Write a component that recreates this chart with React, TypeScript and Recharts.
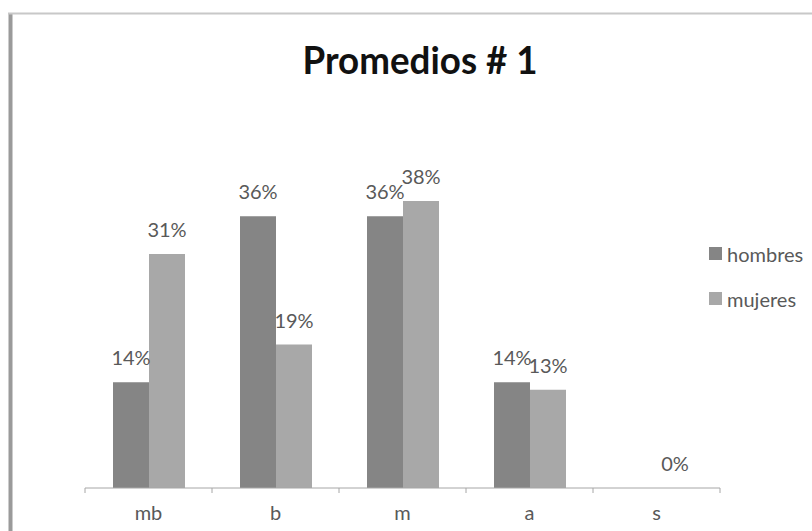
import React from 'react';
import { BarChart, Bar, XAxis, YAxis, Legend, LabelList } from 'recharts';

const categories = ['mb', 'b', 'm', 'a', 's'];
const hombres: (number | null)[] = [0.14, 0.36, 0.36, 0.14, null];
const mujeres: (number | null)[] = [0.31, 0.19, 0.38, 0.13, 0];
const seriesNames = ['hombres', 'mujeres'];
const titleText = 'Promedios # 1';

const data = categories.map((c, i) => ({ cat: c, hombres: hombres[i], mujeres: mujeres[i] }));

const FONT = 'Lato, "Open Sans", sans-serif';
const LABEL_COLOR = '#595959';
const AXIS_COLOR = '#a6a6a6';
const fmt = (v: any) => (v == null ? '' : `${Math.round(Number(v) * 100)}%`);

const CatTick = (props: any) => {
  const { x, y, payload, index, width } = props;
  const half = payload && payload.offset ? payload.offset : width / categories.length / 2;
  return (
    <g>
      <line x1={x - half} x2={x - half} y1={y} y2={y + 5} stroke={AXIS_COLOR} />
      {index === categories.length - 1 && (
        <line x1={x + half} x2={x + half} y1={y} y2={y + 5} stroke={AXIS_COLOR} />
      )}
      <text x={x} y={y + 32} textAnchor="middle" fill={LABEL_COLOR} fontSize={20} fontFamily={FONT}>
        {payload.value}
      </text>
    </g>
  );
};

const LegendContent = (props: any) => {
  const items = props.payload || [];
  return (
    <div style={{ fontFamily: FONT, fontSize: 20, color: LABEL_COLOR }}>
      {items.map((e: any) => (
        <div key={e.value} style={{ display: 'flex', alignItems: 'center', height: 45 }}>
          <span style={{ display: 'inline-block', width: 13, height: 13, background: e.color, marginRight: 5 }} />
          <span>{e.value}</span>
        </div>
      ))}
    </div>
  );
};

export default function App() {
  return (
    <div style={{ position: 'absolute', left: 0, top: 0, width: 812, height: 531, background: '#fff' }}>
      <BarChart
        width={812}
        height={531}
        data={data}
        margin={{ top: 186, right: 92, bottom: 0, left: 85 }}
        barGap={0}
      >
        <XAxis
          dataKey="cat"
          height={43}
          axisLine={{ stroke: AXIS_COLOR }}
          tickLine={false}
          tickSize={0}
          tickMargin={0}
          tick={<CatTick />}
          interval={0}
        />
        <YAxis hide domain={[0, 0.4]} />
        <Legend
          layout="vertical"
          align="center"
          verticalAlign="middle"
          wrapperStyle={{ left: 709, top: 231, width: 110 }}
          content={<LegendContent />}
        />
        <Bar dataKey="hombres" name={seriesNames[0]} fill="#858585" barSize={36} isAnimationActive={false}>
          <LabelList dataKey="hombres" position="top" offset={17} formatter={fmt} fill={LABEL_COLOR} fontSize={20} fontFamily={FONT} />
        </Bar>
        <Bar dataKey="mujeres" name={seriesNames[1]} fill="#a8a8a8" barSize={36} minPointSize={0.01} isAnimationActive={false}>
          <LabelList dataKey="mujeres" position="top" offset={17} formatter={fmt} fill={LABEL_COLOR} fontSize={20} fontFamily={FONT} />
        </Bar>
      </BarChart>
      <svg width={812} height={531} style={{ position: 'absolute', left: 0, top: 0, pointerEvents: 'none' }}>
        <line x1={10.5} x2={10.5} y1={13} y2={531} stroke="#9a9a9a" strokeWidth={4} />
        <line x1={8} x2={812} y1={13.5} y2={13.5} stroke="#c8c8c8" strokeWidth={2} />
        <text x={420} y={74} textAnchor="middle" fontSize={38} fontWeight="bold" fill="#111" fontFamily={FONT} textLength={235} lengthAdjust="spacingAndGlyphs">
          {titleText}
        </text>
      </svg>
    </div>
  );
}
